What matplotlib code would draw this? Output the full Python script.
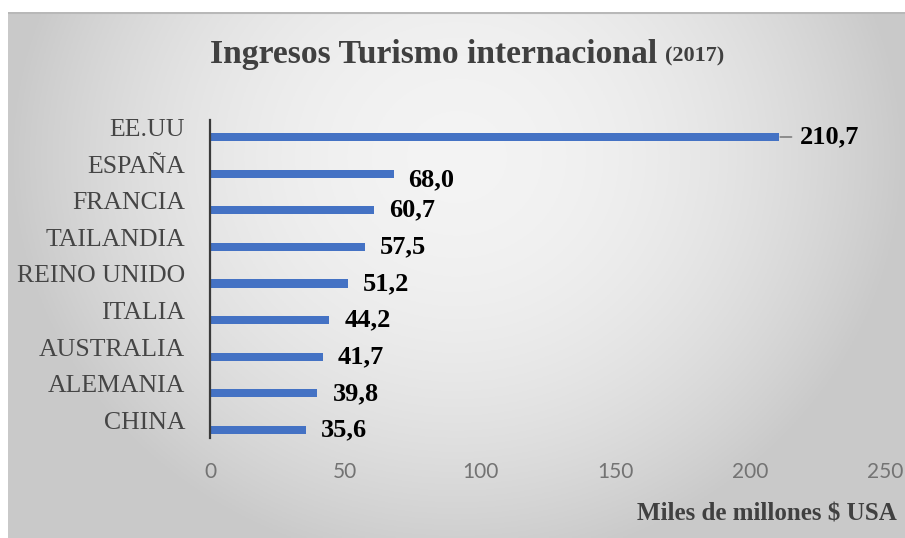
import numpy as np
import matplotlib
matplotlib.use("Agg")
import matplotlib.pyplot as plt

# Data
countries = ["CHINA", "ALEMANIA", "AUSTRALIA", "ITALIA", "REINO UNIDO",
             "TAILANDIA", "FRANCIA", "ESPAÑA", "EE.UU"]
values = [35.6, 39.8, 41.7, 44.2, 51.2, 57.5, 60.7, 68.0, 210.7]
value_labels = ["35,6", "39,8", "41,7", "44,2", "51,2", "57,5", "60,7", "68,0", "210,7"]
xticks = [0, 50, 100, 150, 200, 250]

W, H = 905, 538
fig = plt.figure(figsize=(W / 100, H / 100), dpi=100, facecolor="white")

# Background gradient panel
bg = fig.add_axes([8 / W, 0, 1 - 8 / W, (H - 12) / H])
bg.set_axis_off()
nx, ny = 400, 240
xx, yy = np.meshgrid(np.linspace(-1, 1, nx), np.linspace(-1, 1, ny))
cy = -0.45
r2 = (xx / 0.95) ** 2 + ((yy - cy) / 1.5) ** 2
val = 0.955 - 0.15 * r2
val = np.clip(val, 0.79, 0.97)
img = np.dstack([val, val, val])
bg.imshow(img, extent=[0, 1, 0, 1], aspect="auto", origin="upper")
bg.set_xlim(0, 1)
bg.set_ylim(0, 1)
bg.plot([0, 1], [0.998, 0.998], color="#b8b8b8", lw=1.5, transform=bg.transAxes)

# Main axes
ax = fig.add_axes([210 / W, (H - 438) / H, 675 / W, 318 / H])
ax.set_facecolor("none")
ypos = np.arange(len(countries))
ax.barh(ypos, values, height=0.22, color="#4472C4", zorder=3)
ax.set_xlim(0, 250)
ax.set_ylim(-0.219, 8.464)

for s in ["top", "right", "bottom"]:
    ax.spines[s].set_visible(False)
ax.spines["left"].set_color("#3a3a3a")
ax.spines["left"].set_linewidth(1.6)
ax.spines["left"].set_zorder(4)

ax.set_yticks(ypos + 0.26)
ax.set_yticklabels(countries, fontfamily="Liberation Serif", fontsize=18.5, color="#454545")
ax.tick_params(axis="y", length=0, pad=18)
ax.set_xticks(xticks)
ax.set_xticklabels([str(t) for t in xticks], fontfamily="Lato",
                   fontsize=15, color="#737373")
ax.tick_params(axis="x", length=0, pad=17)

# Data labels
for i, (v, lab) in enumerate(zip(values, value_labels)):
    if lab == "210,7":
        ax.annotate(lab, xy=(v, i), xytext=(21, 0), textcoords="offset pixels",
                    ha="left", va="center", fontfamily="Liberation Serif",
                    fontweight="bold", fontsize=19, color="black",
                    arrowprops=dict(arrowstyle="-", color="#7f7f7f", lw=1.2,
                                    shrinkA=4, shrinkB=1))
    else:
        dy = -6 if lab == "68,0" else 0
        ax.annotate(lab, xy=(v, i), xytext=(15, dy), textcoords="offset pixels",
                    ha="left", va="center", fontfamily="Liberation Serif",
                    fontweight="bold", fontsize=19, color="black")

# Title
fig.text(210 / W, 1 - 54 / H, "Ingresos Turismo internacional", ha="left", va="center",
         fontfamily="Liberation Serif", fontweight="bold", fontsize=24.2, color="#404040")
fig.text(665 / W, 1 - 56 / H, "(2017)", ha="left", va="center",
         fontfamily="Liberation Serif", fontweight="bold", fontsize=16, color="#404040")

# Axis title
fig.text(897 / W, 1 - 514 / H, "Miles de millones $ USA", ha="right", va="center",
         fontfamily="Liberation Serif", fontweight="bold", fontsize=18, color="#404040")

fig.savefig("out.png", dpi=100, facecolor="white")
